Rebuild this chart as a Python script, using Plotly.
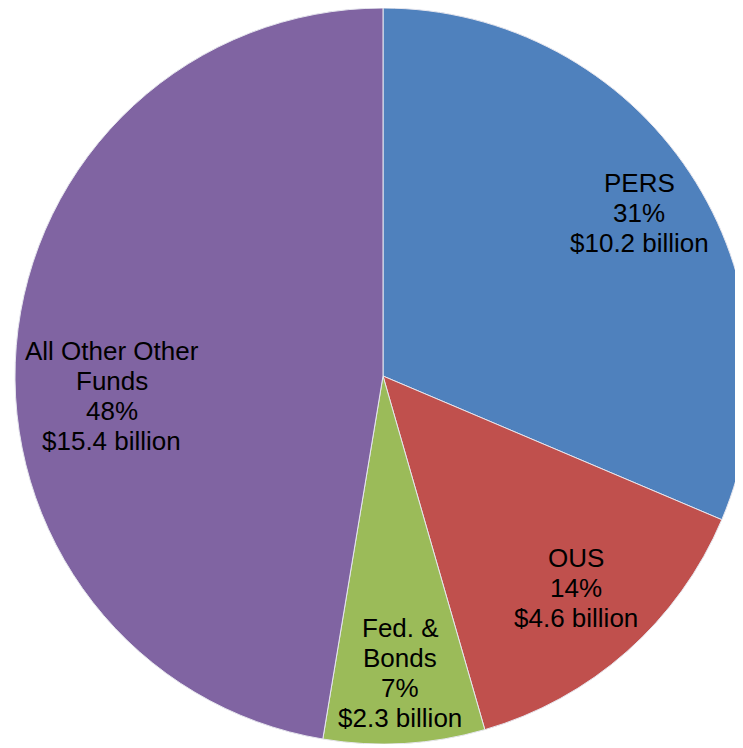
import math
import plotly.graph_objects as go

labels = ["PERS", "OUS", "Fed. & Bonds", "All Other Other Funds"]
name_lines = [["PERS"], ["OUS"], ["Fed. &", "Bonds"], ["All Other Other", "Funds"]]
values = [10.2, 4.6, 2.3, 15.4]
pct_labels = ["31%", "14%", "7%", "48%"]
colors = ["#4F81BD", "#C0504D", "#9BBB59", "#8064A2"]

W, H = 750, 736
R = min(W, H) / 2.0
LINE = 30  # px between label lines
# label radial fraction and vertical nudge (style)
label_r = [0.835, 0.79, 0.82, 0.74]
label_dy = [-7, 6, 4, -42]

fig = go.Figure(go.Pie(
    labels=labels,
    values=values,
    textinfo="none",
    sort=False,
    direction="clockwise",
    rotation=0,
    marker=dict(colors=colors, line=dict(color="#E6E6EE", width=1)),
    hoverinfo="label+value",
    domain=dict(x=[0.0, 1.0], y=[0.0, 1.0]),
))

total = sum(values)
cum = 0.0
for i, v in enumerate(values):
    mid = (cum + v / 2.0) / total
    cum += v
    theta = 2 * math.pi * mid
    r = label_r[i] * R
    xp = 0.5 + r * math.sin(theta) / W
    yp = 0.5 + r * math.cos(theta) / H
    lines = name_lines[i] + [pct_labels[i], f"${v} billion"]
    n = len(lines)
    for k, line in enumerate(lines):
        fig.add_annotation(
            x=xp, y=yp, xref="paper", yref="paper",
            text=line, showarrow=False,
            xanchor="center", yanchor="middle",
            yshift=label_dy[i] + ((n - 1) / 2.0 - k) * LINE,
            font=dict(family="Liberation Sans, Arial, sans-serif", size=26, color="black"),
            align="center",
        )

fig.update_layout(
    width=W, height=H,
    margin=dict(l=0, r=0, t=0, b=0),
    showlegend=False,
    paper_bgcolor="white",
)

fig.write_html(
    "out.html",
    post_script="document.documentElement.style.overflow='hidden';document.body.style.overflow='hidden';",
)
